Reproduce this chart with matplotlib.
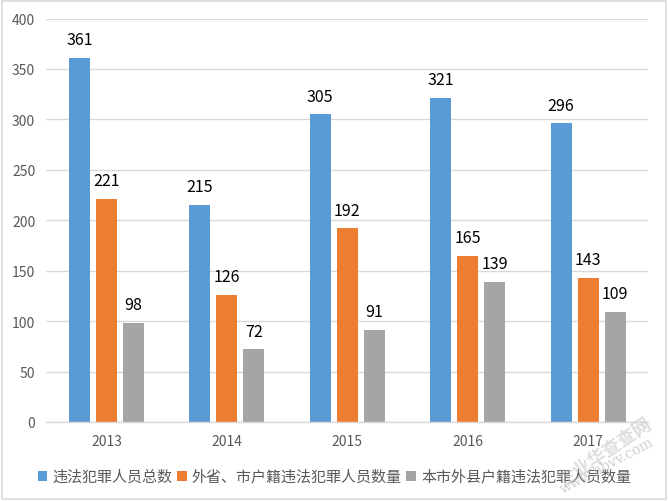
import matplotlib
matplotlib.use("Agg")
import matplotlib.pyplot as plt
from matplotlib.patches import Rectangle
import numpy as np

plt.rcParams['font.family'] = ['Noto Sans CJK SC', 'DejaVu Sans']

years = ['2013', '2014', '2015', '2016', '2017']
total = [361, 215, 305, 321, 296]
other_province = [221, 126, 192, 165, 143]
local_county = [98, 72, 91, 139, 109]
series_names = ['违法犯罪人员总数', '外省、市户籍违法犯罪人员数量', '本市外县户籍违法犯罪人员数量']
series = [total, other_province, local_county]
colors = ['#5B9BD5', '#ED7D31', '#A5A5A5']
yticks = [0, 50, 100, 150, 200, 250, 300, 350, 400]

W, H = 668, 502
fig = plt.figure(figsize=(W/100, H/100), dpi=100, facecolor='white')
fig.add_artist(Rectangle((2/W, 2/H), 664/W, 498/H, fill=False, ec='#D9D9D9', lw=1.2,
                         transform=fig.transFigure))
ax = fig.add_axes([46.3/W, 1-423/H, 602/W, 403.5/H])
ax.set_xlim(-0.5, 4.5)
ax.set_ylim(0, 400)
for s in ['top', 'right', 'left']:
    ax.spines[s].set_visible(False)
ax.spines['bottom'].set_color('#D9D9D9')
ax.spines['bottom'].set_linewidth(1.0)
ax.set_axisbelow(True)
ax.yaxis.grid(True, color='#D9D9D9', lw=1.0)
ax.set_yticks(yticks)
ax.set_xticks(range(5))
ax.set_xticklabels(years)
ax.tick_params(length=0, labelsize=10, labelcolor='#595959')
ax.tick_params(axis='x', pad=9)
ax.tick_params(axis='y', pad=8)

x = np.arange(5)
bw = 21/120.4
step = 27/120.4
for i, (vals, c) in enumerate(zip(series, colors)):
    bars = ax.bar(x + (i-1)*step, vals, bw, color=c, linewidth=0)
    for b, v in zip(bars, vals):
        ax.annotate(str(v), (b.get_x()+bw/2, v), xytext=(0, 7), textcoords='offset points',
                    ha='center', va='bottom', fontsize=11.5, color='black')

legend_marker_px = [37.5, 177, 406]
legend_text_px = [52, 191.5, 421]
for mx, tx, name, c in zip(legend_marker_px, legend_text_px, series_names, colors):
    fig.add_artist(Rectangle((mx/W, 1-482/H), 10/W, 10/H, fc=c, ec='none',
                             transform=fig.transFigure))
    fig.text(tx/W, 1-477/H, name, fontsize=10.8, color='#595959', ha='left', va='center')

fig.text(605/W, 1-453/H, '企业华查查网', fontsize=13, color='#BDBDBD', alpha=0.5, rotation=34,
         ha='center', va='center', fontweight='bold')
fig.text(607/W, 1-466/H, 'www.hbvv.com', fontsize=10, color='#BDBDBD', alpha=0.7, rotation=28,
         ha='center', va='center', family=['DejaVu Serif'])

fig.savefig('out.png', dpi=100, facecolor='white')
